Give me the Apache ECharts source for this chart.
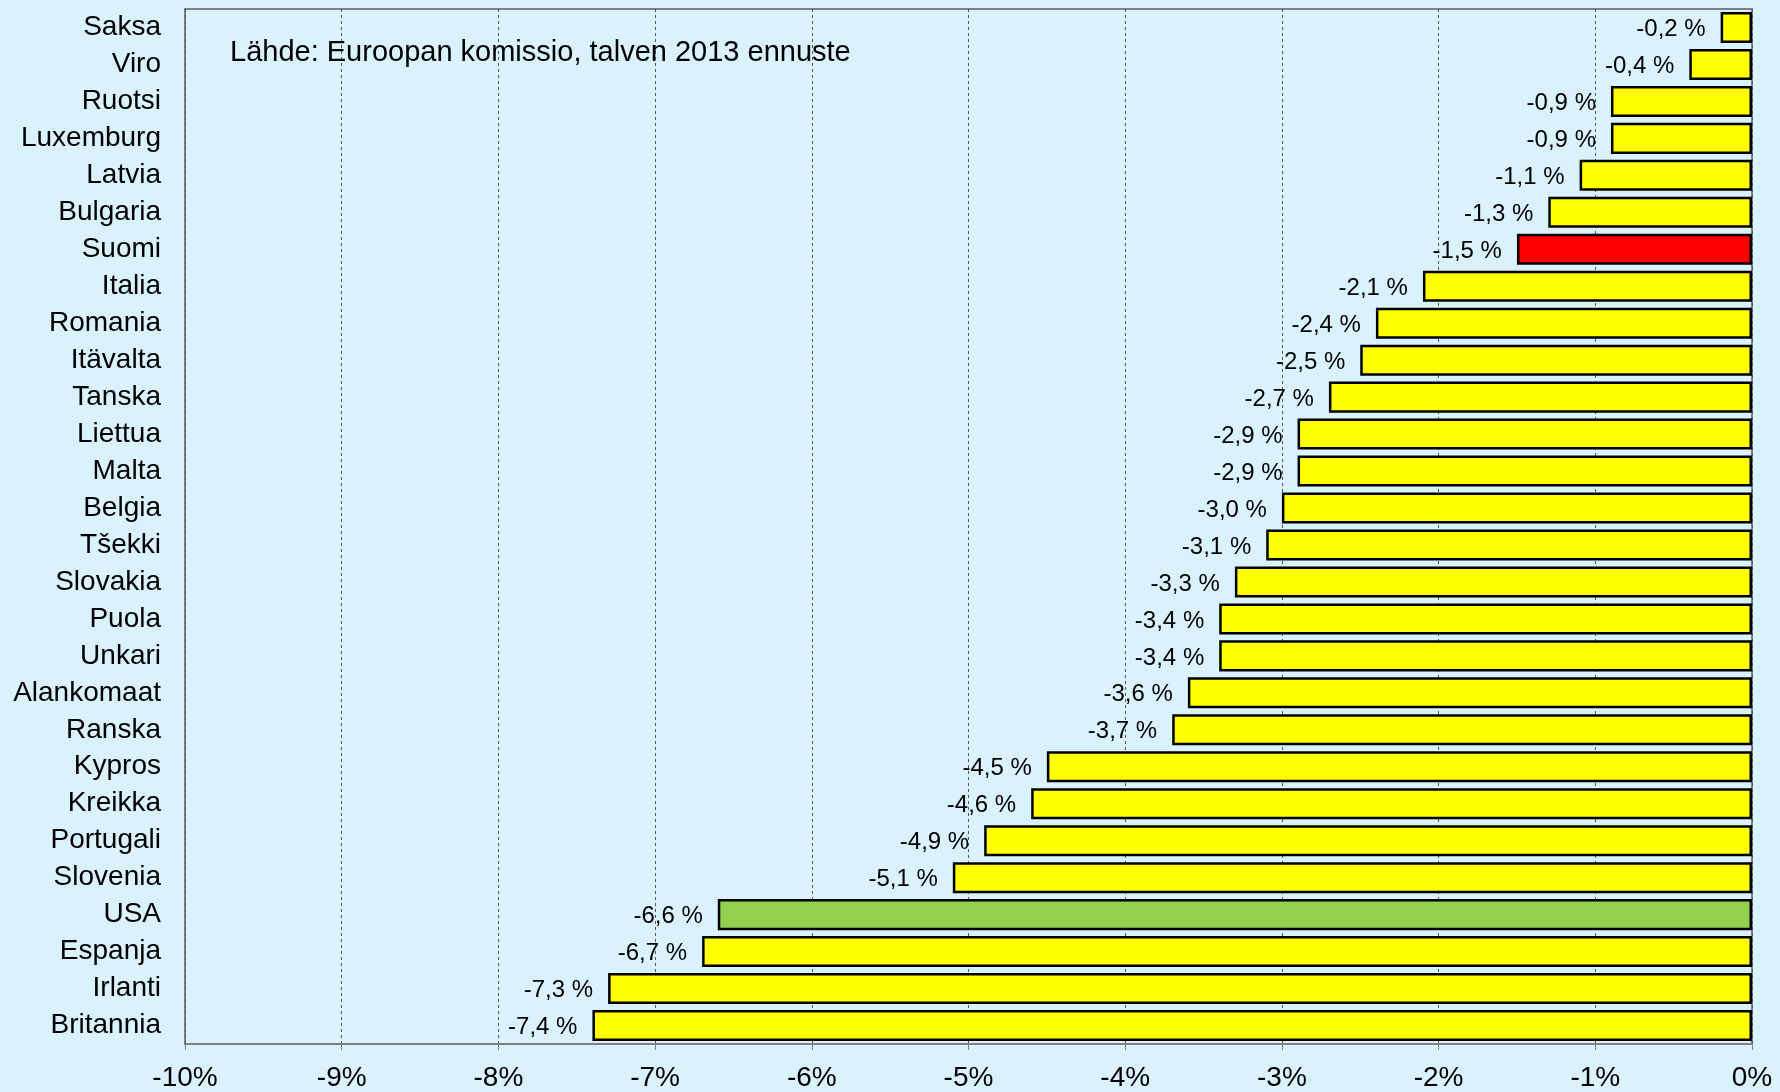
<!DOCTYPE html>
<html><head><meta charset="utf-8">
<script src="https://cdn.jsdelivr.net/npm/echarts@6/dist/echarts.min.js"></script>
<style>html,body{margin:0;padding:0;background:#DAF2FE}#c{width:1780px;height:1092px}</style>
</head><body><div id="c"></div>
<script>
const categories = ["Saksa","Viro","Ruotsi","Luxemburg","Latvia","Bulgaria","Suomi","Italia","Romania","Itävalta","Tanska","Liettua","Malta","Belgia","Tšekki","Slovakia","Puola","Unkari","Alankomaat","Ranska","Kypros","Kreikka","Portugali","Slovenia","USA","Espanja","Irlanti","Britannia"];
const values = [-0.2,-0.4,-0.9,-0.9,-1.1,-1.3,-1.5,-2.1,-2.4,-2.5,-2.7,-2.9,-2.9,-3.0,-3.1,-3.3,-3.4,-3.4,-3.6,-3.7,-4.5,-4.6,-4.9,-5.1,-6.6,-6.7,-7.3,-7.4];
const highlightColors = {"Suomi":"#FF0000","USA":"#92D050"};
const baseColor = "#FFFF00";
const sourceNote = "Lähde: Euroopan komissio, talven 2013 ennuste";

const chart = echarts.init(document.getElementById('c'), null, {renderer:'canvas'});
chart.setOption({
  backgroundColor: '#DAF2FE',
  animation: false,
  textStyle: {fontFamily: 'Liberation Sans, Arial, sans-serif'},
  title: {text: sourceNote, left: 225, top: 33, textStyle: {fontSize: 29, fontWeight: 'normal', color: '#000', fontFamily: 'Liberation Sans'}},
  grid: {left: 185, right: 28, top: 9, bottom: 46, show: true, borderColor: '#808080', borderWidth: 2, backgroundColor: 'transparent'},
  xAxis: {
    type: 'value', min: -10, max: 0, interval: 1,
    axisLabel: {formatter: v => v + '%', fontSize: 28, color: '#000', margin: 20, fontFamily: 'Liberation Sans'},
    axisLine: {show: true, lineStyle: {color: '#808080', width: 2}},
    axisTick: {show: true, length: 6, lineStyle: {color: '#808080'}},
    splitLine: {show: true, lineStyle: {color: '#555', type: [3,3], width: 1}}
  },
  yAxis: {
    type: 'category', data: categories, inverse: true,
    axisLabel: {fontSize: 28, color: '#000', margin: 24, fontFamily: 'Liberation Sans', padding: [3,0,0,0]},
    axisLine: {show: false}, axisTick: {show: false}
  },
  series: [{
    type: 'bar', barCategoryGap: '16%',
    data: values.map((v, i) => ({value: v, itemStyle: {color: highlightColors[categories[i]] || baseColor}})),
    itemStyle: {borderColor: '#000', borderWidth: 2.5},
    label: {show: true, position: 'left', distance: 15, offset: [0, 2], fontSize: 24, color: '#000', fontFamily: 'Liberation Sans',
      formatter: p => p.value.toFixed(1).replace('.', ',') + ' %'}
  }]
});
</script></body></html>
